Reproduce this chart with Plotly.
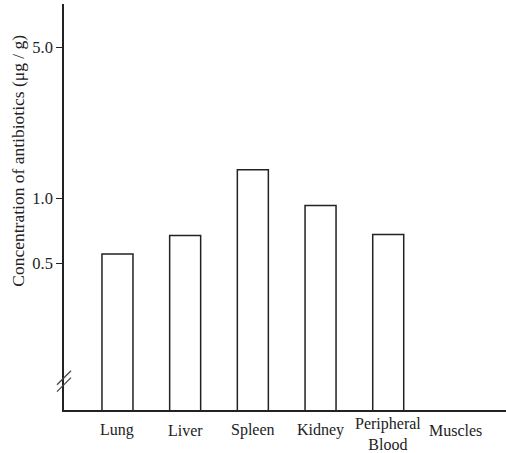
import plotly.graph_objects as go

categories = ["Lung", "Liver", "Spleen", "Kidney", "Peripheral<br>Blood", "Muscles"]
concentration = [0.554, 0.675, 1.36, 0.928, 0.683, None]
y_ticks = [0.5, 1.0, 5.0]
y_tick_labels = ["0.5", "1.0", "5.0"]
y_title = "Concentration of antibiotics (μg / g)"

FONT = "Liberation Serif"
INK = "#222222"

fig = go.Figure()
fig.add_trace(go.Bar(
    x=categories, y=concentration,
    width=0.458,
    marker=dict(color="white", line=dict(color=INK, width=1.5)),
))

annotations = [dict(
    text=y_title, textangle=-90,
    xref="paper", yref="paper", x=-0.104, y=0.614,
    xanchor="center", yanchor="middle", showarrow=False,
    font=dict(family=FONT, size=17.5, color=INK),
)]
# category labels drawn as annotations so the two-line label can sit as in the original
for cat in categories:
    n_lines = cat.count("<br>") + 1
    center_below_axis = 20 + 4 * (n_lines - 1)
    annotations.append(dict(
        text=cat, xref="x", yref="paper", x=cat, y=0,
        xanchor="center", yanchor="middle", yshift=-center_below_axis,
        showarrow=False, align="center", borderpad=0,
        font=dict(family=FONT, size=16, color=INK),
    ))

fig.update_layout(
    width=506, height=453,
    margin=dict(l=64, r=0, t=4, b=42.5, autoexpand=False),
    paper_bgcolor="white", plot_bgcolor="white",
    showlegend=False,
    font=dict(family=FONT, size=16, color=INK),
    xaxis=dict(
        type="category",
        range=[-0.79, 5.74],
        showline=True, linecolor=INK, linewidth=1.5,
        ticks="", showgrid=False, zeroline=False,
        showticklabels=False,
    ),
    yaxis=dict(
        type="log",
        range=[-0.977, 0.899],
        tickvals=y_ticks, ticktext=y_tick_labels,
        showline=True, linecolor=INK, linewidth=1.5,
        ticks="outside", ticklen=6, tickcolor=INK,
        showgrid=False, zeroline=False,
        tickfont=dict(family=FONT, size=16.5, color=INK),
        ticklabelstandoff=0,
    ),
    annotations=annotations,
)

# axis break marks
for yc in (0.0795, 0.0625):
    fig.add_shape(
        type="line", xref="paper", yref="paper",
        xsizemode="pixel", ysizemode="pixel",
        xanchor=0, yanchor=yc,
        x0=-7, x1=7, y0=-7, y1=7,
        line=dict(color="#444444", width=1.2),
    )

fig.write_html(
    "out.html",
    config={"displayModeBar": False},
    post_script="document.body.style.margin='0';document.body.style.padding='0';",
)
